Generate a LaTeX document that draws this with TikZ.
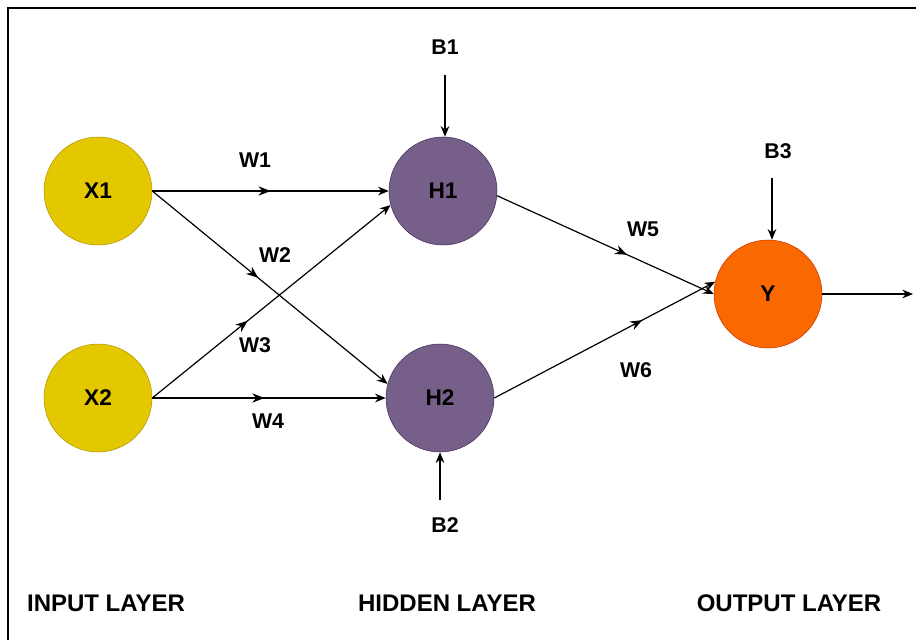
\documentclass[tikz,border=0pt]{standalone}
\usepackage{fontspec}
\setmainfont{Liberation Sans}
\usetikzlibrary{arrows.meta,decorations.markings}

\definecolor{inputfill}{HTML}{E3C800}
\definecolor{inputline}{HTML}{B09500}
\definecolor{hiddenfill}{HTML}{76608A}
\definecolor{hiddenline}{HTML}{432D57}
\definecolor{outputfill}{HTML}{FA6800}
\definecolor{outputline}{HTML}{C73500}

\tikzset{
    neuron/.style={circle, minimum size=81pt, inner sep=0pt, font=\fontsize{17}{20}\selectfont\bfseries},
    inneuron/.style={neuron, fill=inputfill, draw=inputline},
    hidneuron/.style={neuron, fill=hiddenfill, draw=hiddenline},
    outneuron/.style={neuron, fill=outputfill, draw=outputline},
    wlabel/.style={inner sep=0pt, font=\fontsize{16}{19}\selectfont\bfseries},
    layerlabel/.style={inner sep=0pt, font=\fontsize{18}{21}\selectfont\bfseries},
    tip/.style={-{Stealth[length=8pt,width=6.5pt]}},
    wire/.style={tip, line width=0.9pt},
    weight/.style={wire, postaction={decorate}, decoration={markings,
        mark=at position #1 with {\arrow{Stealth[length=9pt,width=7pt]}}}}
}

\begin{document}
\begin{tikzpicture}[x=0.75pt, y=-0.75pt]
    \useasboundingbox (0,0) rectangle (916,639);
    \draw[line width=1.5pt] (8,650) -- (8,8) -- (925,8);

    \node[inneuron]  (x1) at (98,191) {X1};
    \node[inneuron]  (x2) at (98,398) {X2};
    \node[hidneuron] (h1) at (443,191) {H1};
    \node[hidneuron] (h2) at (440,398) {H2};
    \node[outneuron] (y)  at (768,294) {Y};

    \node[wlabel] (b1) at (445,47)  {B1};
    \node[wlabel] (b2) at (445,525) {B2};
    \node[wlabel] (b3) at (778,151) {B3};

    \coordinate (b1in) at (445,75);
    \coordinate (b2in) at (440,500);
    \coordinate (b3in) at (772,178);
    \coordinate (out)  at (913,294);

    \draw[weight=0.5]  (x1.east) -- (h1.west);
    \draw[weight=0.45] (x1.east) -- (h2.165);
    \draw[weight=0.4]  (x2.east) -- (h1.195);
    \draw[weight=0.48] (x2.east) -- (h2.west);
    \draw[weight=0.6]  (h1.-5)   -- (y.west);
    \draw[weight=0.67] (h2.east) -- (y.167);

    \draw[wire] (b1in) -- (h1.north -| b1in);
    \draw[wire] (b2in) -- (h2.south -| b2in);
    \draw[wire] (b3in) -- (y.north -| b3in);
    \draw[wire] (y.east) -- (out);

    \node[wlabel] (w1) at (255,160) {W1};
    \node[wlabel] (w2) at (275,255) {W2};
    \node[wlabel] (w3) at (255,345) {W3};
    \node[wlabel] (w4) at (268,421) {W4};
    \node[wlabel] (w5) at (643,229) {W5};
    \node[wlabel] (w6) at (636,370) {W6};

    \node[layerlabel] (inlayer)  at (106,603) {INPUT LAYER};
    \node[layerlabel] (hidlayer) at (447,603) {HIDDEN LAYER};
    \node[layerlabel] (outlayer) at (789,603) {OUTPUT LAYER};
\end{tikzpicture}
\end{document}
